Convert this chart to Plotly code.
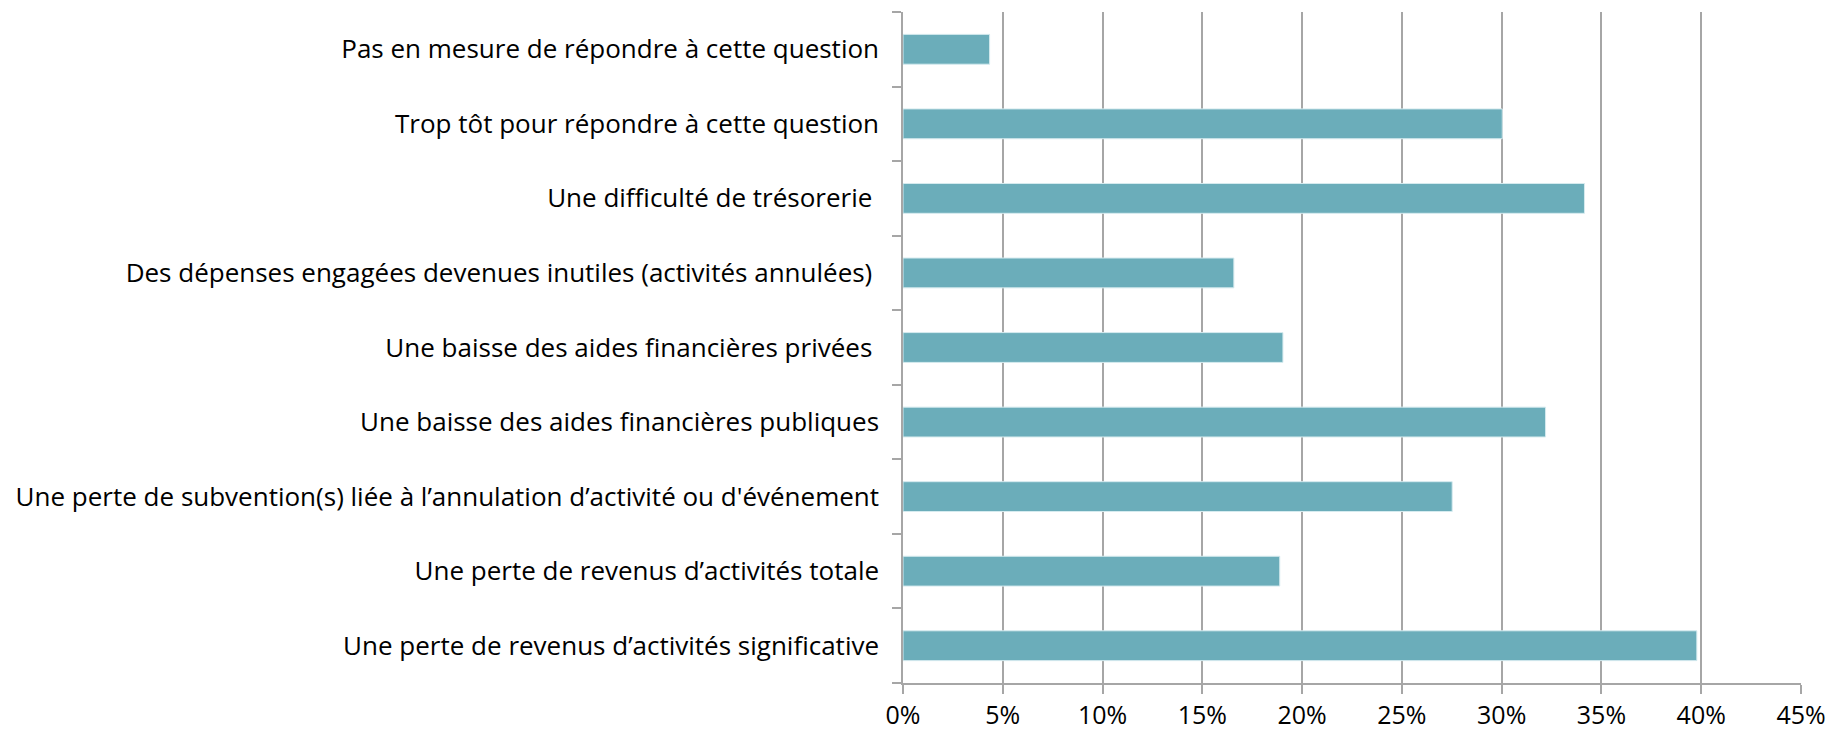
import plotly.graph_objects as go

categories = [
    "Une perte de revenus d\u2019activités significative",
    "Une perte de revenus d\u2019activités totale",
    "Une perte de subvention(s) liée à l\u2019annulation d\u2019activité ou d'événement",
    "Une baisse des aides financières publiques",
    "Une baisse des aides financières privées\u00a0",
    "Des dépenses engagées devenues inutiles (activités annulées)\u00a0",
    "Une difficulté de trésorerie\u00a0",
    "Trop tôt pour répondre à cette question",
    "Pas en mesure de répondre à cette question",
]
values = [0.3978, 0.1888, 0.2752, 0.3220, 0.1904, 0.1658, 0.3415, 0.3003, 0.0434]
tick_vals = [0, 0.05, 0.10, 0.15, 0.20, 0.25, 0.30, 0.35, 0.40, 0.45]
tick_text = ["0%", "5%", "10%", "15%", "20%", "25%", "30%", "35%", "40%", "45%"]

FONT = "Open Sans"
GRID = "#a6a6a6"

fig = go.Figure(go.Bar(
    x=values, y=categories, orientation="h",
    marker=dict(color="#6badba", line=dict(color="#d6ebef", width=1)),
    width=0.4,
))

fig.update_layout(
    width=1831, height=732,
    margin=dict(l=903, r=30, t=12, b=49),
    paper_bgcolor="white", plot_bgcolor="white",
    showlegend=False,
    font=dict(family=FONT, color="#000000"),
    bargap=0.6,
)
fig.update_xaxes(
    range=[0, 0.45], tickvals=tick_vals, ticktext=tick_text,
    showgrid=True, gridcolor=GRID, gridwidth=1.5,
    showline=True, linecolor=GRID, linewidth=1.5,
    ticks="outside", ticklen=9, tickcolor=GRID, tickwidth=1.5,
    tickfont=dict(size=25, family=FONT, color="#000"),
    ticklabelstandoff=0,
    automargin=False,
    zeroline=False,
)
fig.update_yaxes(
    type="category", categoryorder="array", categoryarray=categories,
    showgrid=False, showline=True, linecolor=GRID, linewidth=1.5,
    ticks="outside", ticklen=9, tickcolor=GRID, tickwidth=1.5,
    tickson="boundaries",
    tickfont=dict(size=26, family=FONT, color="#000"),
    ticklabelstandoff=17,
    automargin=False,
)

fig.write_html("out.html")
